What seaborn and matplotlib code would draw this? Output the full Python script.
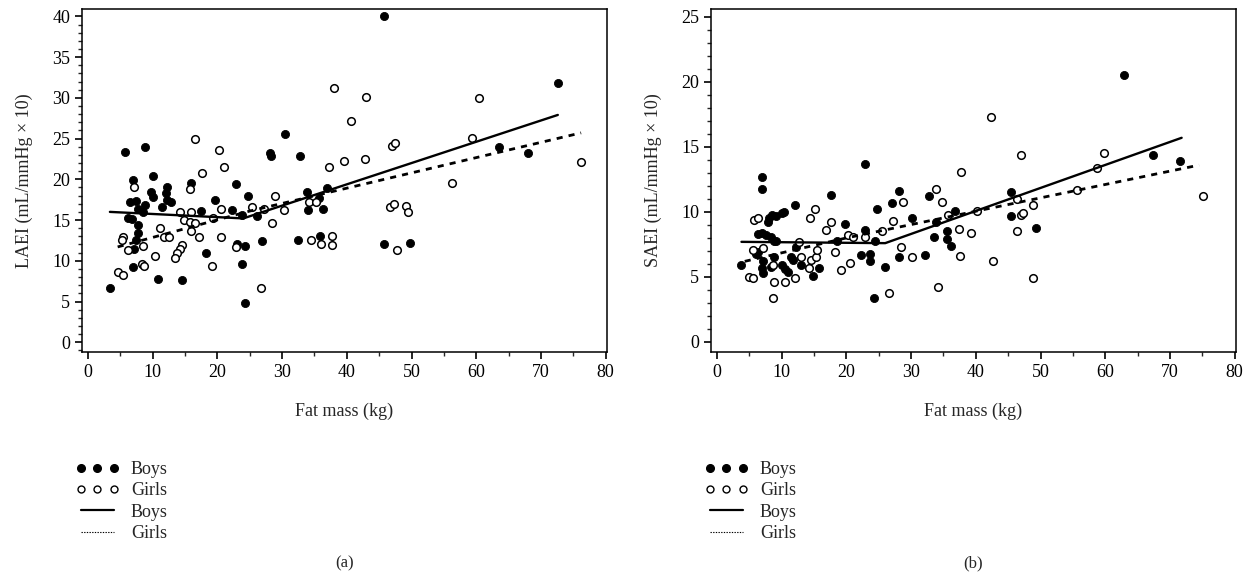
import matplotlib

matplotlib.use("Agg")
import matplotlib.pyplot as plt
import pandas as pd
import seaborn as sns
from matplotlib.lines import Line2D
from matplotlib.ticker import MultipleLocator

# panel (a): LAEI against fat mass
laei_boys_fm = [3.4, 5.7, 8.8, 10.0, 6.9, 16.0, 9.8, 10.0, 12.2, 12.0, 12.2, 12.8, 11.5, 6.5,
                7.5, 7.7, 8.8, 8.5, 6.2, 6.8, 7.7, 7.7, 7.4, 7.2, 6.9, 10.8, 14.6, 17.4, 19.6,
                18.3, 30.5, 28.2, 28.3, 32.8, 22.9, 24.8, 22.3, 23.8, 26.2, 33.8, 35.7, 36.9,
                34.0, 36.3, 23.1, 24.3, 26.9, 32.5, 35.8, 23.8, 24.3, 45.8, 45.8, 49.8, 63.5,
                68.0, 72.6]
laei_boys = [6.7, 23.4, 24.0, 20.4, 19.9, 19.6, 18.5, 17.8, 19.0, 18.3, 17.4, 17.2, 16.6, 17.2,
             17.3, 16.4, 16.8, 16.0, 15.3, 15.1, 14.4, 13.4, 12.5, 11.5, 9.2, 7.8, 7.7, 16.1, 17.4,
             10.9, 25.5, 23.2, 22.9, 22.9, 19.4, 18.0, 16.2, 15.6, 15.5, 18.4, 17.7, 18.9,
             16.2, 16.4, 12.1, 11.8, 12.4, 12.6, 13.1, 9.6, 4.8, 40.0, 12.1, 12.2, 24.0,
             23.2, 31.8]
laei_girls_fm = [16.6, 17.7, 7.1, 15.8, 14.3, 14.9, 16.0, 15.7, 16.6, 16.0, 11.1, 17.2, 11.8,
                 12.6, 5.4, 5.2, 6.2, 8.5, 14.6, 14.3, 13.8, 13.4, 10.3, 8.3, 8.6, 4.6, 5.4, 19.1,
                 20.2, 21.1, 28.9, 20.5, 25.4, 27.2, 30.3, 19.3, 28.5, 20.5, 22.9, 26.8, 34.2,
                 35.2, 34.4, 36.0, 37.7, 37.7, 37.2, 38.0, 43.0, 40.6, 39.5, 42.8, 47.0, 47.5,
                 46.7, 47.3, 49.2, 49.4, 47.7, 56.2, 59.4, 60.5, 76.2]
laei_girls = [25.0, 20.8, 19.0, 18.8, 16.0, 15.0, 16.0, 14.7, 14.6, 13.7, 14.0, 12.9, 12.9,
              12.9, 12.9, 12.5, 11.3, 11.8, 11.9, 11.5, 10.9, 10.4, 10.6, 9.6, 9.3, 8.6, 8.2, 9.3,
              23.6, 21.5, 18.0, 16.3, 16.6, 16.3, 16.2, 15.2, 14.6, 12.9, 11.7, 6.6, 17.2,
              17.2, 12.5, 12.0, 13.1, 11.9, 21.5, 31.2, 30.1, 27.1, 22.2, 22.5, 24.1, 24.4,
              16.6, 17.0, 16.7, 16.0, 11.3, 19.5, 25.1, 30.0, 22.1]
laei_fit_boys_fm = [3.4, 24.0, 72.6]
laei_fit_boys = [16.0, 15.2, 27.9]
laei_fit_girls_fm = [4.6, 25.0, 76.2]
laei_fit_girls = [11.7, 16.1, 25.7]

# panel (b): SAEI against fat mass
saei_boys_fm = [3.8, 6.9, 6.9, 12.1, 8.5, 9.2, 10.0, 10.3, 8.1, 7.9, 6.4, 7.0, 7.6, 8.3, 8.8,
                9.2, 12.2, 6.1, 6.4, 7.2, 6.9, 7.2, 8.4, 8.9, 10.0, 10.5, 11.0, 11.5, 11.8, 13.0,
                14.8, 15.7, 17.6, 22.9, 18.5, 19.8, 22.9, 22.3, 23.6, 23.6, 24.4, 24.7, 26.0,
                24.3, 27.0, 28.1, 28.1, 30.2, 32.2, 32.7, 33.6, 33.9, 35.6, 35.6, 36.2, 36.8,
                45.5, 45.5, 49.3, 62.9, 67.3, 71.6]
saei_boys = [5.9, 12.7, 11.8, 10.5, 9.8, 9.7, 9.9, 10.0, 9.5, 9.2, 8.3, 8.4, 8.2, 8.1, 7.8,
             7.8, 7.3, 6.8, 6.9, 6.2, 5.7, 5.3, 5.8, 6.5, 5.9, 5.6, 5.4, 6.5, 6.3, 5.9,
             5.1, 5.7, 11.3, 13.7, 7.8, 9.1, 8.6, 6.7, 6.8, 6.2, 7.8, 10.2, 5.8,
             3.4, 10.7, 11.6, 6.5, 9.5, 6.7, 11.2, 8.1, 9.2, 8.5, 7.9, 7.4, 10.1,
             11.5, 9.7, 8.8, 20.5, 14.4, 13.9]
saei_girls_fm = [4.9, 5.6, 5.8, 6.3, 7.2, 5.6, 8.7, 8.7, 8.9, 10.5, 12.1, 12.7, 13.0, 14.5,
                 14.2, 15.3, 15.5, 15.1, 14.4, 16.8, 17.6, 18.2, 19.1, 20.5, 20.3, 21.1, 22.9,
                 25.5, 26.6, 27.2, 28.7, 28.4, 30.1, 33.9, 34.8, 34.2, 35.7, 37.4, 39.2, 37.6,
                 37.7, 40.2, 42.3, 42.6, 47.0, 46.4, 48.9, 47.0, 47.3, 46.3, 48.9, 55.7, 58.8,
                 59.8, 75.1]
saei_girls = [5.0, 4.9, 9.4, 9.5, 7.2, 7.1, 5.9, 3.4, 4.6, 4.6, 4.9, 7.7, 6.5, 6.3,
              5.7, 6.5, 7.1, 10.2, 9.5, 8.6, 9.2, 6.9, 5.5, 6.1, 8.2, 8.1, 8.1,
              8.5, 3.8, 9.3, 10.8, 7.3, 6.5, 11.8, 10.8, 4.2, 9.8, 8.7, 8.4, 6.6,
              13.1, 10.1, 17.3, 6.2, 14.4, 11.0, 10.5, 9.8, 9.9, 8.5, 4.9, 11.7, 13.4,
              14.5, 11.2]
saei_fit_boys_fm = [3.8, 26.0, 71.8]
saei_fit_boys = [7.7, 7.6, 15.7]
saei_fit_girls_fm = [4.3, 20.0, 74.5]
saei_fit_girls = [6.2, 8.0, 13.6]

x_label = "Fat mass (kg)"
y_labels = ["LAEI (mL/mmHg × 10)", "SAEI (mL/mmHg × 10)"]
panel_tags = ["(a)", "(b)"]
legend_labels = ["Boys", "Girls", "Boys", "Girls"]


def draw_panel(ax, boys_fm, boys, girls_fm, girls, fit_b_fm, fit_b, fit_g_fm, fit_g,
               ylabel, ylim, ymajor, tag):
    boys_df = pd.DataFrame({"fm": boys_fm, "value": boys})
    girls_df = pd.DataFrame({"fm": girls_fm, "value": girls})
    sns.scatterplot(data=boys_df, x="fm", y="value", ax=ax, color="black",
                    edgecolor="black", linewidth=0.6, s=34, zorder=3)
    sns.scatterplot(data=girls_df, x="fm", y="value", ax=ax, color="white",
                    edgecolor="black", linewidth=1.1, s=30, zorder=3)
    sns.lineplot(x=fit_b_fm, y=fit_b, ax=ax, color="black", linewidth=1.7, zorder=4)
    sns.lineplot(x=fit_g_fm, y=fit_g, ax=ax, color="black", linewidth=2.0,
                 dashes=False, zorder=4).lines[-1].set_dashes((2.2, 2.2))

    ax.set_xlim(-0.9, 80.2)
    ax.set_ylim(*ylim)
    ax.xaxis.set_major_locator(MultipleLocator(10))
    ax.xaxis.set_minor_locator(MultipleLocator(5))
    ax.yaxis.set_major_locator(MultipleLocator(ymajor))
    ax.yaxis.set_minor_locator(MultipleLocator(1))
    ax.tick_params(which="major", direction="out", length=5, width=1.2, labelsize=13,
                   colors="black")
    ax.tick_params(which="minor", direction="out", length=3, width=1.0)
    for side in ["left", "right", "top", "bottom"]:
        ax.spines[side].set_visible(True)
        ax.spines[side].set_color("black")
        ax.spines[side].set_linewidth(1.1)
    ax.set_xlabel(x_label, fontsize=13, labelpad=16)
    ax.set_ylabel(ylabel, fontsize=13, labelpad=14)

    handles = [
        Line2D([], [], linestyle="none", marker="o", markersize=5.5, color="black"),
        Line2D([], [], linestyle="none", marker="o", markersize=5, markerfacecolor="white",
               markeredgecolor="black", markeredgewidth=1.0),
        Line2D([], [], color="black", linewidth=1.6),
        Line2D([], [], color="black", linewidth=0.8, linestyle=(0, (1.2, 1.2))),
    ]
    ax.legend(handles, legend_labels, loc="upper left", bbox_to_anchor=(-0.012, -0.318),
              frameon=False, numpoints=3, handlelength=2.4, handletextpad=0.65,
              labelspacing=0.24, borderpad=0, borderaxespad=0, fontsize=13)
    ax.text(0.5, -0.617, tag, transform=ax.transAxes, ha="center", va="center", fontsize=12)


sns.set_theme(style="ticks")
plt.rcParams["font.family"] = ["Liberation Serif", "DejaVu Serif"]

fig = plt.figure(figsize=(12.49, 5.75), dpi=100)
ax_a = fig.add_axes([0.0657, 0.3878, 0.4203, 0.5965])
ax_b = fig.add_axes([0.5693, 0.3878, 0.4203, 0.5965])

draw_panel(ax_a, laei_boys_fm, laei_boys, laei_girls_fm, laei_girls,
           laei_fit_boys_fm, laei_fit_boys, laei_fit_girls_fm, laei_fit_girls,
           y_labels[0], (-1.2, 40.9), 5, panel_tags[0])
draw_panel(ax_b, saei_boys_fm, saei_boys, saei_girls_fm, saei_girls,
           saei_fit_boys_fm, saei_fit_boys, saei_fit_girls_fm, saei_fit_girls,
           y_labels[1], (-0.77, 25.6), 5, panel_tags[1])

fig.savefig("out.png", dpi=100, facecolor="white")
